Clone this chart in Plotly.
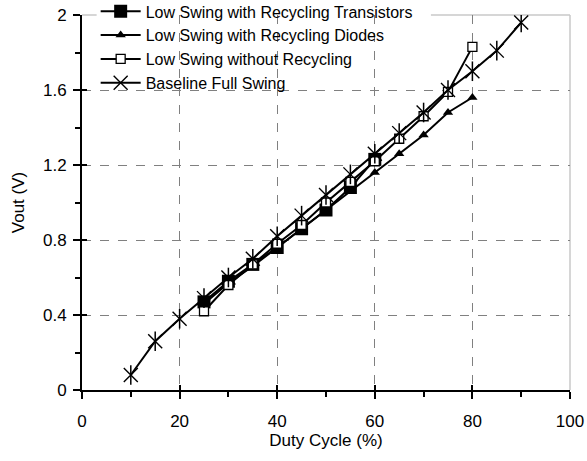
import plotly.graph_objects as go

duty_transistors = [25, 30, 35, 40, 45, 50, 55, 60]
vout_transistors = [0.47, 0.58, 0.67, 0.76, 0.86, 0.96, 1.08, 1.23]

duty_diodes = [25, 30, 35, 40, 45, 50, 55, 60, 65, 70, 75, 80]
vout_diodes = [0.46, 0.57, 0.66, 0.76, 0.86, 0.96, 1.06, 1.16, 1.26, 1.36, 1.48, 1.56]

duty_norecycle = [25, 30, 35, 40, 45, 50, 55, 60, 65, 70, 75, 80]
vout_norecycle = [0.42, 0.56, 0.67, 0.78, 0.88, 1.00, 1.11, 1.22, 1.34, 1.46, 1.59, 1.83]

duty_baseline = [10, 15, 20, 25, 30, 35, 40, 45, 50, 55, 60, 65, 70, 75, 80, 85, 90]
vout_baseline = [0.08, 0.26, 0.38, 0.49, 0.60, 0.70, 0.82, 0.93, 1.04, 1.15, 1.26, 1.37, 1.48, 1.60, 1.70, 1.81, 1.96]

x_ticks = [0, 20, 40, 60, 80, 100]
x_minor = [10, 30, 50, 70, 90]
y_ticks = [0, 0.4, 0.8, 1.2, 1.6, 2]
y_minor = [0.2, 0.6, 1.0, 1.4, 1.8]
y_tick_text = ["0", "0.4", "0.8", "1.2", "1.6", "2"]

names = ["Low Swing with Recycling Transistors", "Low Swing with Recycling Diodes",
         "Low Swing without Recycling", "Baseline Full Swing"]

fig = go.Figure()
fig.add_trace(go.Scatter(x=duty_transistors, y=vout_transistors, name=names[0], mode="lines+markers",
                         line=dict(color="black", width=2),
                         marker=dict(symbol="square", size=13, color="black")))
fig.add_trace(go.Scatter(x=duty_diodes, y=vout_diodes, name=names[1], mode="lines+markers",
                         line=dict(color="black", width=2),
                         marker=dict(symbol="triangle-up", size=9, color="black")))
fig.add_trace(go.Scatter(x=duty_norecycle, y=vout_norecycle, name=names[2], mode="lines+markers",
                         line=dict(color="black", width=2),
                         marker=dict(symbol="square", size=9, color="white",
                                     line=dict(color="black", width=1.3))))
fig.add_trace(go.Scatter(x=duty_baseline, y=vout_baseline, name=names[3], mode="lines+markers",
                         legendgroup="base",
                         line=dict(color="black", width=2),
                         marker=dict(symbol="x-thin-open", size=14, color="black",
                                     line=dict(color="black", width=1.4))))
fig.add_trace(go.Scatter(x=duty_baseline, y=vout_baseline, mode="markers", showlegend=False,
                         legendgroup="base",
                         marker=dict(symbol="line-ns-open", size=14, color="black",
                                     line=dict(color="black", width=1.5))))
# empty trace to activate overlay axes used for the inner half of the crossing ticks
fig.add_trace(go.Scatter(x=[], y=[], xaxis="x2", yaxis="y2", showlegend=False, hoverinfo="skip"))

# light plot-area border (top/right), broken where the legend sits
border = dict(color="#c8c8c8", width=1.5)
fig.add_shape(type="line", xref="paper", yref="paper", x0=1, x1=1, y0=0, y1=1, line=border, layer="below")
fig.add_shape(type="line", xref="paper", yref="paper", x0=0.715, x1=1, y0=1, y1=1, line=border, layer="below")
fig.add_shape(type="line", xref="paper", yref="paper", x0=0, x1=0.03, y0=1, y1=1, line=border, layer="below")

font = dict(family="Liberation Sans, Arial, sans-serif", size=17, color="black")
lfont = dict(family="Liberation Sans, Arial, sans-serif", size=16, color="black")
grid = dict(showgrid=True, gridcolor="#808080", griddash="dash", gridwidth=1)
fig.update_layout(
    width=587, height=461,
    margin=dict(l=82, r=17, t=15, b=71, autoexpand=False),
    paper_bgcolor="white", plot_bgcolor="white",
    font=font,
    showlegend=True,
    legend=dict(x=0.028, y=1.055, xanchor="left", yanchor="top", bgcolor="rgba(0,0,0,0)",
                font=lfont, borderwidth=0, tracegroupgap=0, itemwidth=40),
    xaxis=dict(range=[0, 100], tickvals=x_ticks, showline=True, linecolor="black", linewidth=2,
               ticks="outside", ticklen=7, tickwidth=2, tickcolor="black", ticklabelstandoff=8,
               minor=dict(tickvals=x_minor, ticks="outside", ticklen=5, tickwidth=2, tickcolor="black"),
               zeroline=False, automargin=False,
               title=dict(text="Duty Cycle (%)", font=font, standoff=4), **grid),
    yaxis=dict(range=[0, 2], tickvals=y_ticks, ticktext=y_tick_text, showline=True, linecolor="black", linewidth=2,
               ticks="outside", ticklen=7, tickwidth=2, tickcolor="black", ticklabelstandoff=3,
               minor=dict(tickvals=y_minor, ticks="outside", ticklen=5, tickwidth=2, tickcolor="black"),
               zeroline=False, automargin=False,
               title=dict(text="Vout (V)", font=font, standoff=14), **grid),
    xaxis2=dict(range=[0, 100], overlaying="x", anchor="y", side="bottom", tickvals=x_ticks,
                ticks="inside", ticklen=5, tickwidth=2, tickcolor="black", showticklabels=False,
                showgrid=False, zeroline=False, showline=False, automargin=False),
    yaxis2=dict(range=[0, 2], overlaying="y", anchor="x", side="left", tickvals=y_ticks,
                ticks="inside", ticklen=5, tickwidth=2, tickcolor="black", showticklabels=False,
                showgrid=False, zeroline=False, showline=False, automargin=False),
)
fig.write_html("out.html", config={"displayModeBar": False},
               post_script="document.body.style.margin='0';document.body.style.padding='0';")
